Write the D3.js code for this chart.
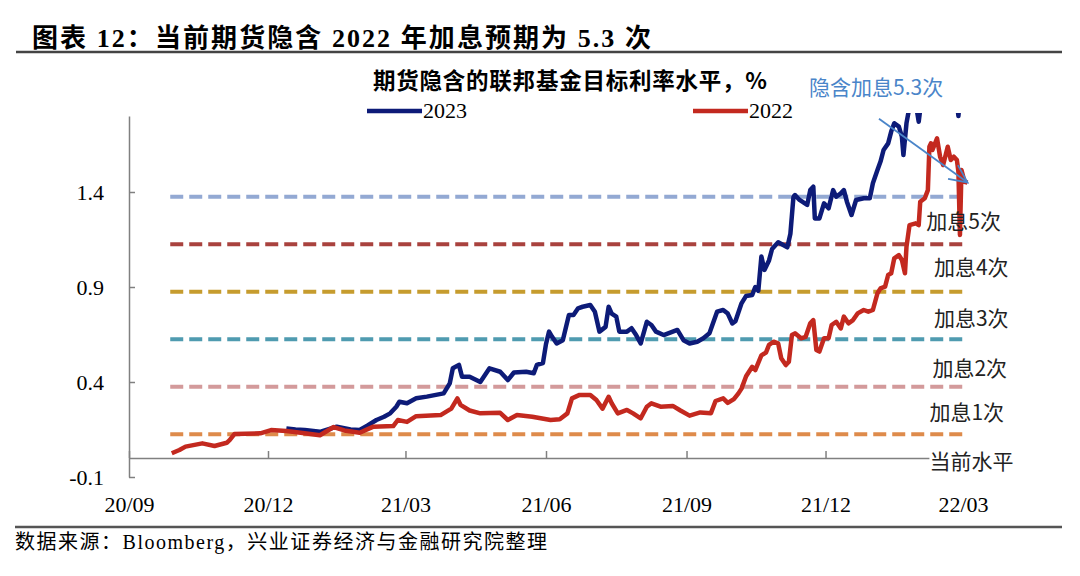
<!DOCTYPE html>
<html>
<head>
<meta charset="utf-8">
<script src="https://cdn.jsdelivr.net/npm/d3@7"></script>
<style>
  body { margin: 0; background: #fff; }
  svg { display: block; }
</style>
</head>
<body>
<script>
// 期货隐含的联邦基金目标利率水平, %
var s2023 = [
  ["2020-12-13",0.156],["2020-12-19",0.15],["2020-12-25",0.148],["2021-01-04",0.138],["2021-01-15",0.165],
  ["2021-01-24",0.15],["2021-01-30",0.147],["2021-02-04",0.17],["2021-02-10",0.2],["2021-02-15",0.217],
  ["2021-02-19",0.235],["2021-02-23",0.27],["2021-02-25",0.296],["2021-03-02",0.288],["2021-03-08",0.314],
  ["2021-03-15",0.323],["2021-03-26",0.34],["2021-03-30",0.393],["2021-04-01",0.472],["2021-04-05",0.49],
  ["2021-04-07",0.428],["2021-04-12",0.428],["2021-04-19",0.40],["2021-04-25",0.472],["2021-05-02",0.454],
  ["2021-05-07",0.41],["2021-05-11",0.45],["2021-05-19",0.454],["2021-05-24",0.446],["2021-05-26",0.49],
  ["2021-05-30",0.5],["2021-06-01",0.6],["2021-06-03",0.665],["2021-06-05",0.638],["2021-06-08",0.603],
  ["2021-06-12",0.62],["2021-06-16",0.753],["2021-06-19",0.753],["2021-06-22",0.788],["2021-06-25",0.796],
  ["2021-06-30",0.805],["2021-07-03",0.77],["2021-07-06",0.665],["2021-07-10",0.69],["2021-07-12",0.796],
  ["2021-07-14",0.76],["2021-07-17",0.744],["2021-07-19",0.665],["2021-07-24",0.665],["2021-07-27",0.683],
  ["2021-07-30",0.647],["2021-08-02",0.603],["2021-08-06",0.717],["2021-08-09",0.7],["2021-08-12",0.665],
  ["2021-08-17",0.647],["2021-08-23",0.665],["2021-08-26",0.674],["2021-08-30",0.62],["2021-09-03",0.603],
  ["2021-09-08",0.612],["2021-09-12",0.63],["2021-09-16",0.656],["2021-09-21",0.77],["2021-09-25",0.779],
  ["2021-09-28",0.76],["2021-10-01",0.708],["2021-10-03",0.72],["2021-10-07",0.814],["2021-10-10",0.853],
  ["2021-10-14",0.858],["2021-10-16",0.9],["2021-10-18",0.88],["2021-10-20",1.06],["2021-10-22",0.99],
  ["2021-10-25",1.04],["2021-10-27",1.1],["2021-10-31",1.135],["2021-11-06",1.109],["2021-11-08",1.18],
  ["2021-11-10",1.375],["2021-11-11",1.384],["2021-11-14",1.358],["2021-11-19",1.332],["2021-11-21",1.41],
  ["2021-11-23",1.428],["2021-11-24",1.261],["2021-11-27",1.261],["2021-11-30",1.34],["2021-12-03",1.314],
  ["2021-12-06",1.41],["2021-12-08",1.375],["2021-12-11",1.393],["2021-12-13",1.41],["2021-12-15",1.349],
  ["2021-12-18",1.279],["2021-12-21",1.358],["2021-12-26",1.367],["2021-12-30",1.367],["2022-01-01",1.446],
  ["2022-01-04",1.516],["2022-01-06",1.56],["2022-01-08",1.621],["2022-01-11",1.656],["2022-01-13",1.718],
  ["2022-01-15",1.762],["2022-01-18",1.744],["2022-01-20",1.691],["2022-01-21",1.595],["2022-01-23",1.762],
  ["2022-01-25",1.85],["2022-01-28",1.9],["2022-01-30",1.82],["2022-01-31",1.77],["2022-02-02",1.9],
  ["2022-02-10",2.0],["2022-02-18",1.98],["2022-02-24",1.95],["2022-02-26",1.8],["2022-02-27",1.9]
];

var s2022 = [
  ["2020-09-29",0.025],["2020-10-04",0.042],["2020-10-08",0.06],["2020-10-19",0.077],["2020-10-27",0.063],
  ["2020-11-04",0.08],["2020-11-06",0.095],["2020-11-09",0.126],["2020-11-26",0.13],["2020-12-03",0.147],
  ["2020-12-13",0.142],["2020-12-17",0.138],["2020-12-25",0.13],["2021-01-04",0.12],["2021-01-13",0.163],
  ["2021-01-20",0.145],["2021-01-30",0.133],["2021-02-08",0.165],["2021-02-21",0.168],["2021-02-24",0.2],
  ["2021-03-02",0.19],["2021-03-08",0.22],["2021-03-24",0.226],["2021-03-31",0.26],["2021-04-04",0.314],
  ["2021-04-06",0.28],["2021-04-12",0.25],["2021-04-19",0.235],["2021-05-02",0.238],["2021-05-07",0.2],
  ["2021-05-13",0.226],["2021-05-23",0.217],["2021-06-04",0.2],["2021-06-10",0.204],["2021-06-15",0.235],
  ["2021-06-18",0.314],["2021-06-23",0.332],["2021-06-30",0.332],["2021-07-04",0.305],["2021-07-08",0.26],
  ["2021-07-12",0.322],["2021-07-14",0.288],["2021-07-18",0.235],["2021-07-24",0.253],["2021-07-28",0.235],
  ["2021-08-02",0.209],["2021-08-06",0.27],["2021-08-09",0.288],["2021-08-15",0.27],["2021-08-23",0.274],
  ["2021-08-28",0.25],["2021-09-03",0.223],["2021-09-10",0.24],["2021-09-17",0.236],["2021-09-20",0.3],
  ["2021-09-25",0.314],["2021-09-28",0.29],["2021-10-02",0.31],["2021-10-05",0.34],["2021-10-07",0.365],
  ["2021-10-10",0.43],["2021-10-14",0.48],["2021-10-16",0.463],["2021-10-20",0.54],["2021-10-23",0.555],
  ["2021-10-25",0.595],["2021-10-28",0.612],["2021-10-31",0.603],["2021-11-02",0.525],["2021-11-05",0.489],
  ["2021-11-07",0.507],["2021-11-09",0.647],["2021-11-11",0.656],["2021-11-15",0.63],["2021-11-18",0.638],
  ["2021-11-21",0.709],["2021-11-23",0.726],["2021-11-25",0.568],["2021-11-27",0.56],["2021-11-30",0.63],
  ["2021-12-03",0.63],["2021-12-05",0.7],["2021-12-08",0.717],["2021-12-11",0.682],["2021-12-13",0.744],
  ["2021-12-16",0.709],["2021-12-19",0.726],["2021-12-22",0.761],["2021-12-26",0.779],["2021-12-29",0.77],
  ["2022-01-01",0.779],["2022-01-04",0.867],["2022-01-06",0.893],["2022-01-09",0.902],["2022-01-11",0.963],
  ["2022-01-13",0.972],["2022-01-15",1.051],["2022-01-18",1.068],["2022-01-20",1.042],["2022-01-22",0.972],
  ["2022-01-23",1.112],["2022-01-25",1.226],["2022-01-29",1.235],["2022-01-31",1.226],["2022-02-01",1.349],
  ["2022-02-04",1.367],["2022-02-06",1.41],["2022-02-07",1.638],["2022-02-08",1.656],["2022-02-09",1.621],
  ["2022-02-12",1.682],["2022-02-14",1.586],["2022-02-16",1.542],["2022-02-19",1.638],["2022-02-21",1.568],
  ["2022-02-23",1.586],["2022-02-25",1.568],["2022-02-26",1.507],["2022-02-27",1.174],["2022-02-28",1.516],
  ["2022-03-02",1.454],["2022-03-04",1.449]
];

// hike levels (dashed) and their labels
var hikeLevels = [0.125, 0.375, 0.625, 0.875, 1.125, 1.375];
var hikeColors = ["#de8b4b", "#d39a9b", "#4f9bb0", "#c69c2e", "#a9423e", "#93a9d3"];
var hikeNames = ["当前水平", "加息1次", "加息2次", "加息3次", "加息4次", "加息5次"];
var hikeLabelValues = [-0.016, 0.242, 0.474, 0.732, 1.005, 1.247];
var hikeLabelDates = ["2022-02-07", "2022-02-07", "2022-02-09", "2022-02-10", "2022-02-10", "2022-02-05"];
var hikeSpan = ["2020-09-28", "2022-03-01"];

var yTicks = [-0.1, 0.4, 0.9, 1.4];
var xTicks = ["2020-09-01", "2020-12-01", "2021-03-01", "2021-06-01", "2021-09-01", "2021-12-01", "2022-03-01"];

var arrowFrom = ["2022-01-05", 1.785],
    arrowTo = ["2022-03-04", 1.45];

var parse = d3.timeParse("%Y-%m-%d");

var width = 1080, height = 576;
var blue = "#0d1b78", red = "#c3291f";
var serif = "'Liberation Serif', 'Times New Roman', 'Noto Sans CJK SC', serif";
var cjk = "'Noto Sans CJK SC', 'Noto Sans', sans-serif";

var svg = d3.select("body").append("svg")
    .attr("width", width)
    .attr("height", height);

var x = d3.scaleTime()
    .domain([parse("2020-09-01"), parse("2022-03-01")])
    .range([129, 963]);

var y = d3.scaleLinear()
    .domain([-0.1, 1.8])
    .range([477, 116]);

// title and rules
svg.append("text")
    .attr("x", 32).attr("y", 47)
    .attr("textLength", 619)
    .attr("lengthAdjust", "spacing")
    .style("font-family", serif)
    .style("font-weight", "bold")
    .style("font-size", "26px")
    .text("图表 12：当前期货隐含 2022 年加息预期为 5.3 次");

svg.append("line")
    .attr("x1", 16).attr("x2", 1062).attr("y1", 52).attr("y2", 52)
    .attr("stroke", "#444").attr("stroke-width", 2.5);

svg.append("line")
    .attr("x1", 15).attr("x2", 1062).attr("y1", 527).attr("y2", 527)
    .attr("stroke", "#555").attr("stroke-width", 2.5);

svg.append("text")
    .attr("x", 15).attr("y", 549)
    .attr("textLength", 532)
    .attr("lengthAdjust", "spacing")
    .style("font-family", serif)
    .style("font-size", "20px")
    .text("数据来源：Bloomberg，兴业证券经济与金融研究院整理");

svg.append("text")
    .attr("x", 373).attr("y", 89)
    .attr("textLength", 394)
    .attr("lengthAdjust", "spacing")
    .style("font-family", cjk)
    .style("font-weight", "bold")
    .style("font-size", "22.5px")
    .text("期货隐含的联邦基金目标利率水平，%");

// legend
var legend = [{name: "2023", color: blue, x: 367}, {name: "2022", color: red, x: 693}];
legend.forEach(function(d) {
    svg.append("line")
        .attr("x1", d.x).attr("x2", d.x + 55).attr("y1", 111).attr("y2", 111)
        .attr("stroke", d.color).attr("stroke-width", 4.5);
    svg.append("text")
        .attr("x", d.x + 56).attr("y", 118)
        .style("font-family", serif)
        .style("font-size", "22px")
        .text(d.name);
});

// axes
var yAxis = d3.axisLeft(y)
    .tickValues(yTicks)
    .tickSizeInner(-6)
    .tickSizeOuter(0)
    .tickPadding(25)
    .tickFormat(function(d) { return d3.format(".1f")(d).replace("−", "-"); });

var gy = svg.append("g")
    .attr("transform", "translate(129,0)")
    .call(yAxis);

var xAxis = d3.axisBottom(x)
    .tickValues(xTicks.map(parse))
    .tickSizeInner(-7)
    .tickSizeOuter(0)
    .tickPadding(38)
    .tickFormat(d3.timeFormat("%y/%m"));

var gx = svg.append("g")
    .attr("transform", "translate(0," + y(0) + ")")
    .call(xAxis);

[gx, gy].forEach(function(g) {
    g.selectAll("path, line").attr("stroke", "#808080").attr("stroke-width", 1.5);
    g.selectAll("text")
        .style("font-family", serif)
        .style("font-size", "22px")
        .attr("fill", "#000");
});

// dashed hike levels
svg.append("g").selectAll("line")
    .data(hikeLevels)
    .enter().append("line")
    .attr("x1", x(parse(hikeSpan[0])))
    .attr("x2", x(parse(hikeSpan[1])))
    .attr("y1", function(d) { return y(d); })
    .attr("y2", function(d) { return y(d); })
    .attr("stroke", function(d, i) { return hikeColors[i]; })
    .attr("stroke-width", 4)
    .attr("stroke-dasharray", "13,6");

// series
svg.append("clipPath").attr("id", "plot-clip")
    .append("rect").attr("x", 120).attr("y", 113).attr("width", 900).attr("height", 380);

var line = d3.line()
    .x(function(d) { return x(parse(d[0])); })
    .y(function(d) { return y(d[1]); });

var series = svg.append("g").attr("clip-path", "url(#plot-clip)");

series.append("path")
    .datum(s2023)
    .attr("d", line)
    .attr("fill", "none")
    .attr("stroke", blue)
    .attr("stroke-width", 4.5)
    .attr("stroke-linejoin", "round");

series.append("path")
    .datum(s2022)
    .attr("d", line)
    .attr("fill", "none")
    .attr("stroke", red)
    .attr("stroke-width", 4.5)
    .attr("stroke-linejoin", "round");

// labels at the right
var labels = svg.append("g");
labels.selectAll("text")
    .data(hikeNames)
    .enter().append("text")
    .attr("x", function(d, i) { return x(parse(hikeLabelDates[i])); })
    .attr("y", function(d, i) { return y(hikeLabelValues[i]); })
    .attr("dy", "0.36em")
    .style("font-family", cjk)
    .style("font-size", "21px")
    .attr("fill", "#222")
    .text(function(d) { return d; })
    .each(function(d, i) {
        if (i == 0) {
            var bb = this.getBBox();
            labels.insert("rect", "text")
                .attr("x", bb.x).attr("y", bb.y + 2)
                .attr("width", bb.width).attr("height", bb.height - 4)
                .attr("fill", "#fff");
        }
    });

// annotation
var defs = svg.append("defs");
defs.append("marker")
    .attr("id", "barb")
    .attr("markerUnits", "userSpaceOnUse")
    .attr("viewBox", "-20 -10 22 20")
    .attr("refX", 0).attr("refY", 0)
    .attr("markerWidth", 22).attr("markerHeight", 20)
    .attr("orient", "auto")
    .append("path")
    .attr("d", "M-18,-8.4L0,0L-18,8.4")
    .attr("fill", "none")
    .attr("stroke", "#4a85c9")
    .attr("stroke-width", 1.8);

svg.append("line")
    .attr("x1", x(parse(arrowFrom[0]))).attr("y1", y(arrowFrom[1]))
    .attr("x2", x(parse(arrowTo[0]))).attr("y2", y(arrowTo[1]))
    .attr("stroke", "#4a85c9")
    .attr("stroke-width", 1.8)
    .attr("marker-end", "url(#barb)");

svg.append("text")
    .attr("x", 809).attr("y", 95)
    .style("font-family", cjk)
    .style("font-size", "21px")
    .attr("fill", "#4a85c9")
    .text("隐含加息5.3次");
</script>
</body>
</html>
